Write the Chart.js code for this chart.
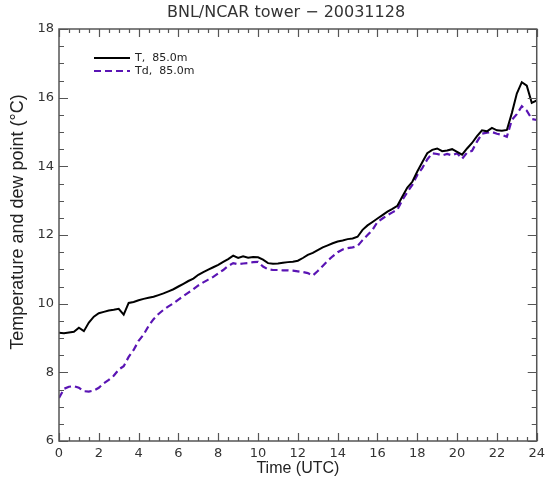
<!DOCTYPE html>
<html>
<head>
<meta charset="utf-8">
<script src="https://cdn.jsdelivr.net/npm/chart.js@4.4.1/dist/chart.umd.min.js"></script>
<style>
  html, body { margin: 0; padding: 0; background: #fff; }
  #wrap { width: 550px; height: 481px; position: relative; }
</style>
</head>
<body>
<div id="wrap"><canvas id="chart"></canvas></div>
<script>
// time of day, hours UTC
const hours = [
  0, 0.25, 0.5, 0.75, 1, 1.25, 1.5, 1.75,
  2, 2.25, 2.5, 2.75, 3, 3.25, 3.5, 3.75,
  4, 4.25, 4.5, 4.75, 5, 5.25, 5.5, 5.75,
  6, 6.25, 6.5, 6.75, 7, 7.25, 7.5, 7.75,
  8, 8.25, 8.5, 8.75, 9, 9.25, 9.5, 9.75,
  10, 10.25, 10.5, 10.75, 11, 11.25, 11.5, 11.75,
  12, 12.25, 12.5, 12.75, 13, 13.25, 13.5, 13.75,
  14, 14.25, 14.5, 14.75, 15, 15.25, 15.5, 15.75,
  16, 16.25, 16.5, 16.75, 17, 17.25, 17.5, 17.75,
  18, 18.25, 18.5, 18.75, 19, 19.25, 19.5, 19.75,
  20, 20.25, 20.5, 20.75, 21, 21.25, 21.5, 21.75,
  22, 22.25, 22.5, 22.75, 23, 23.25, 23.5, 23.75,
  24
]

// temperature at 85 m
const tempT = [
  9.15, 9.14, 9.16, 9.18, 9.30, 9.20, 9.45, 9.62,
  9.72, 9.76, 9.80, 9.82, 9.85, 9.68, 10.02, 10.05,
  10.10, 10.14, 10.17, 10.20, 10.25, 10.30, 10.36, 10.42,
  10.50, 10.58, 10.66, 10.73, 10.84, 10.92, 10.99, 11.06,
  11.13, 11.22, 11.30, 11.40, 11.33, 11.38, 11.34, 11.36,
  11.35, 11.28, 11.18, 11.16, 11.17, 11.19, 11.21, 11.22,
  11.25, 11.33, 11.42, 11.48, 11.56, 11.64, 11.70, 11.76,
  11.81, 11.84, 11.88, 11.90, 11.95, 12.15, 12.28, 12.38,
  12.48, 12.58, 12.68, 12.76, 12.85, 13.12, 13.38, 13.55,
  13.85, 14.12, 14.38, 14.48, 14.52, 14.44, 14.46, 14.50,
  14.42, 14.34, 14.52, 14.68, 14.88, 15.05, 15.02, 15.12,
  15.05, 15.04, 15.06, 15.55, 16.12, 16.45, 16.35, 15.85,
  15.92
]

// dew point at 85 m
const dewTd = [
  7.25, 7.52, 7.58, 7.60, 7.55, 7.45, 7.44, 7.47,
  7.55, 7.68, 7.78, 7.90, 8.08, 8.18, 8.45, 8.65,
  8.92, 9.10, 9.35, 9.55, 9.70, 9.82, 9.92, 10.01,
  10.12, 10.22, 10.32, 10.42, 10.53, 10.62, 10.70, 10.78,
  10.88, 10.98, 11.10, 11.18, 11.15, 11.17, 11.18, 11.21,
  11.22, 11.08, 11.00, 10.98, 10.98, 10.97, 10.97, 10.96,
  10.94, 10.92, 10.89, 10.82, 10.95, 11.10, 11.25, 11.38,
  11.50, 11.58, 11.62, 11.64, 11.68, 11.85, 12.00, 12.15,
  12.38, 12.48, 12.58, 12.66, 12.74, 13.02, 13.25, 13.46,
  13.75, 13.95, 14.20, 14.38, 14.36, 14.32, 14.36, 14.32,
  14.38, 14.22, 14.40, 14.45, 14.72, 14.95, 14.98, 15.00,
  14.95, 14.92, 14.86, 15.35, 15.52, 15.75, 15.62, 15.38,
  15.35
]

const xTicks = [0, 2, 4, 6, 8, 10, 12, 14, 16, 18, 20, 22, 24]
const yTicks = [6, 8, 10, 12, 14, 16, 18]

const TITLE = 'BNL/NCAR tower \u2212 20031128'
const Y_TITLE = 'Temperature and dew point (\u00B0C)'

const SANS = "'Liberation Sans', Arial, sans-serif"
const THIN = "'DejaVu Sans', sans-serif"
const AXIS = '#555'

// IDL-style frame with inward major/minor ticks on all four sides
const frameTicks = {
    id: 'frameTicks',
    afterDraw(chart) {
        const { ctx, chartArea: a, scales: { x, y } } = chart
        ctx.save()
        ctx.strokeStyle = AXIS
        ctx.lineWidth = 1.5
        ctx.strokeRect(a.left, a.top, a.right - a.left, a.bottom - a.top)
        ctx.lineWidth = 1.2
        ctx.beginPath()
        for (let v = x.min; v <= x.max; v += 0.5) {
            const px = Math.round(x.getPixelForValue(v)) + 0.5
            const len = v % 2 === 0 ? 8 : 4
            ctx.moveTo(px, a.bottom); ctx.lineTo(px, a.bottom - len)
            ctx.moveTo(px, a.top); ctx.lineTo(px, a.top + len)
        }
        for (let v = y.min; v <= y.max; v += 0.5) {
            const py = Math.round(y.getPixelForValue(v)) + 0.5
            const len = v % 2 === 0 ? 9 : 5
            ctx.moveTo(a.left, py); ctx.lineTo(a.left + len, py)
            ctx.moveTo(a.right, py); ctx.lineTo(a.right - len, py)
        }
        ctx.stroke()
        ctx.restore()
    }
}

// plot title and y-axis title, placed as in the original figure
const titles = {
    id: 'titles',
    afterDraw(chart) {
        const { ctx } = chart
        ctx.save()
        ctx.fillStyle = '#333'
        ctx.textAlign = 'center'
        ctx.textBaseline = 'middle'
        ctx.font = '16px ' + THIN
        ctx.fillText(TITLE, 286, 13)
        ctx.fillStyle = '#222'
        ctx.font = '18px ' + SANS
        ctx.translate(18, 222)
        ctx.rotate(-Math.PI / 2)
        ctx.fillText(Y_TITLE, 0, 0)
        ctx.restore()
    }
}

// legend in the upper left corner of the plot
const cornerLegend = {
    id: 'cornerLegend',
    afterDatasetsDraw(chart) {
        const { ctx, chartArea: a } = chart
        ctx.save()
        ctx.font = '11px ' + THIN
        ctx.textBaseline = 'middle'
        chart.data.datasets.forEach((ds, i) => {
            const yy = a.top + 29 + i * 13
            ctx.strokeStyle = ds.borderColor
            ctx.lineWidth = 2
            ctx.setLineDash(ds.borderDash || [])
            ctx.beginPath()
            ctx.moveTo(a.left + 35, yy)
            ctx.lineTo(a.left + 71, yy)
            ctx.stroke()
            ctx.setLineDash([])
            ctx.fillStyle = '#222'
            ctx.fillText(ds.label, a.left + 76, yy)
        })
        ctx.restore()
    }
}

const ctx = document.getElementById('chart').getContext('2d')
new Chart(ctx, {
    type: 'line',
    data: {
        datasets: [{
            label: 'T,  85.0m',
            data: hours.map((h, i) => ({ x: h, y: tempT[i] })),
            borderColor: '#000000',
            borderWidth: 2,
            pointRadius: 0,
            tension: 0
        }, {
            label: 'Td,  85.0m',
            data: hours.map((h, i) => ({ x: h, y: dewTd[i] })),
            borderColor: '#5a14b4',
            borderWidth: 2.2,
            borderDash: [7, 4],
            pointRadius: 0,
            tension: 0
        }]
    },
    options: {
        responsive: true,
        maintainAspectRatio: false,
        animation: false,
        layout: { padding: { left: 0, right: 9, top: 29, bottom: 0 } },
        plugins: {
            legend: { display: false },
            tooltip: { enabled: false },
            title: { display: false }
        },
        scales: {
            x: {
                type: 'linear',
                min: 0,
                max: 24,
                afterBuildTicks: scale => { scale.ticks = xTicks.map(v => ({ value: v })) },
                afterFit: scale => { scale.height = 40 },
                grid: { display: false, drawTicks: false },
                border: { display: false },
                ticks: {
                    color: '#333',
                    font: { family: THIN, size: 13 },
                    padding: 5,
                    maxRotation: 0,
                    autoSkip: false
                },
                title: {
                    display: true,
                    text: 'Time (UTC)',
                    color: '#222',
                    font: { family: SANS, size: 16 },
                    padding: { top: 0, bottom: 3 }
                }
            },
            y: {
                type: 'linear',
                min: 6,
                max: 18,
                afterBuildTicks: scale => { scale.ticks = yTicks.map(v => ({ value: v })) },
                afterFit: scale => { scale.width = 59 },
                grid: { display: false, drawTicks: false },
                border: { display: false },
                ticks: {
                    color: '#333',
                    font: { family: THIN, size: 13 },
                    padding: 5
                }
            }
        }
    },
    plugins: [frameTicks, cornerLegend, titles]
})
</script>
</body>
</html>
